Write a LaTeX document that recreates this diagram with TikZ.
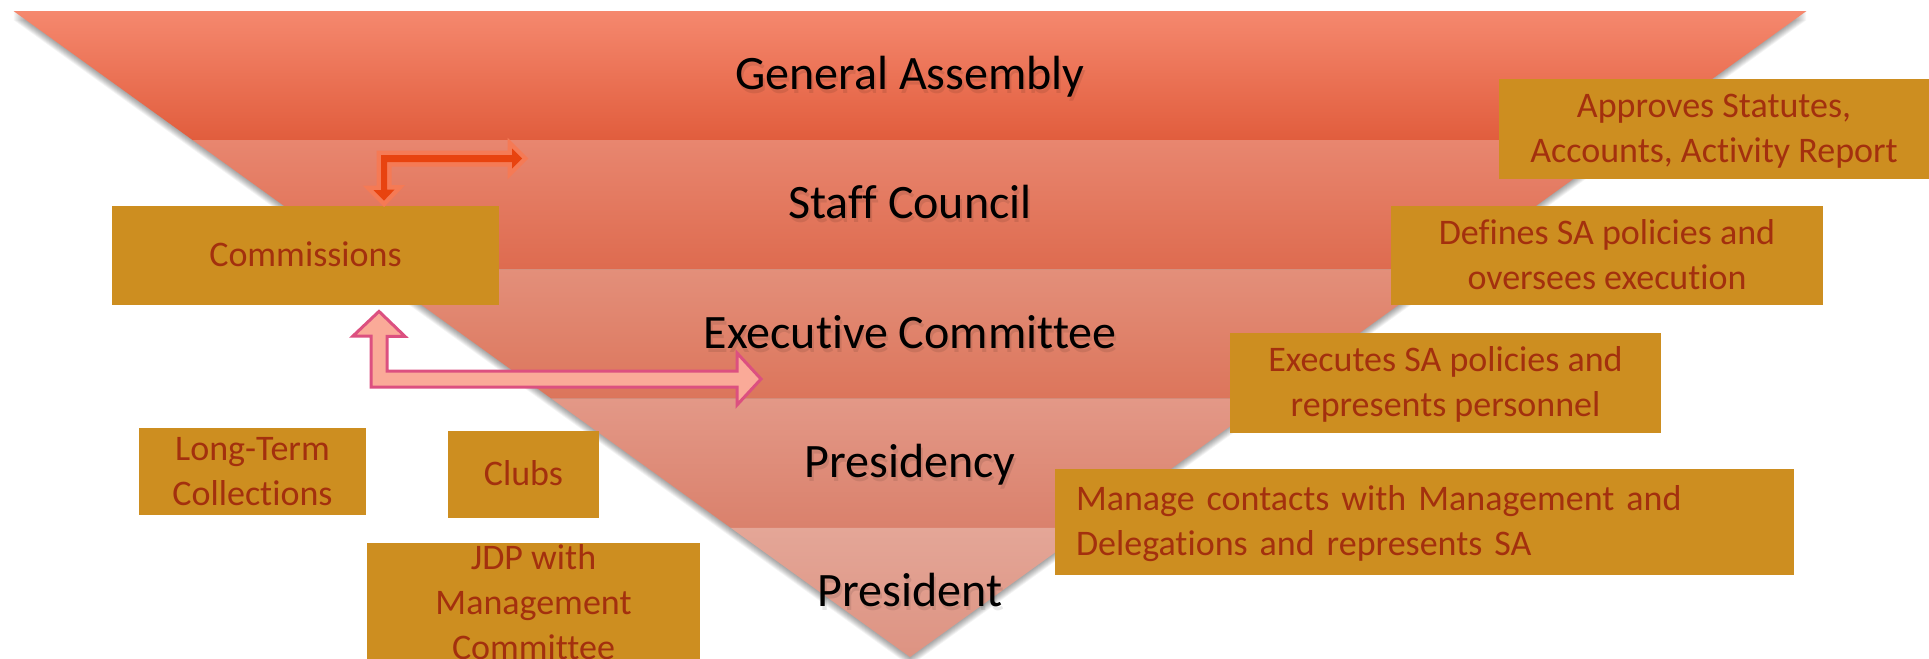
\documentclass[tikz,border=0pt]{standalone}
\usepackage{fontspec}
\setmainfont{Carlito}[Ligatures=NoCommon]
\usetikzlibrary{calc}

\definecolor{boxfill}{HTML}{CD8E20}
\definecolor{boxtext}{HTML}{A3300E}
\definecolor{bandAt}{HTML}{F5886E}\definecolor{bandAb}{HTML}{E15D3D}
\definecolor{bandBt}{HTML}{E8866F}\definecolor{bandBb}{HTML}{DE6B4F}
\definecolor{bandCt}{HTML}{E38F7A}\definecolor{bandCb}{HTML}{DC755B}
\definecolor{bandDt}{HTML}{E39887}\definecolor{bandDb}{HTML}{DA816C}
\definecolor{bandEt}{HTML}{E4A697}\definecolor{bandEb}{HTML}{DD9382}
\definecolor{pinkfill}{HTML}{FAAA98}
\definecolor{pinkline}{HTML}{DC5080}
\definecolor{redfill}{HTML}{E8430F}
\definecolor{redglow}{HTML}{F57A55}

% one line of box text: fixed strut, glyphs smashed
\newcommand{\boxline}[1]{\rule[-2pt]{0pt}{15pt}\smash{#1}}

\begin{document}
\begin{tikzpicture}[x=0.5pt,y=-0.5pt,
  infobox/.style={fill=boxfill,text=boxtext,inner sep=0pt,
    font=\fontsize{18pt}{22.5pt}\selectfont,align=center},
  lbl/.style={anchor=base,text=black,font=\fontsize{24pt}{28pt}\selectfont,inner sep=0pt},
  lblshadow/.style={lbl,opacity=0.09},
  redarrow/.style={preaction={draw=redglow,line width=4.5pt,line join=miter},fill=redfill},
  pinkarrow/.style={fill=pinkfill,draw=pinkline,line width=1.5pt,line join=miter}]

\useasboundingbox (0,0) rectangle (1929,659);
\fill[white] (0,0) rectangle (1929,659);
\clip (0,0) rectangle (1929,659);

% inverted triangle corners
\coordinate (TL) at (13.5,11);
\coordinate (TR) at (1806.5,11);
\coordinate (AP) at (910,657);

% soft shadow below the triangle
\foreach \d in {1,...,9}
  \fill[black,opacity=0.045] ($(TL)+(0,\d)$) -- ($(TR)+(0,\d)$) -- ($(AP)+(0,\d)$) -- cycle;

% band edges
\foreach \i/\t in {0/0,1/0.2,2/0.4,3/0.6,4/0.8}{
  \coordinate (L\i) at ($(TL)!\t!(AP)$);
  \coordinate (R\i) at ($(TR)!\t!(AP)$);
}

\shade[top color=bandAt,bottom color=bandAb] (L0) -- (R0) -- (R1) -- (L1) -- cycle;
\shade[top color=bandBt,bottom color=bandBb] (L1) -- (R1) -- (R2) -- (L2) -- cycle;
\shade[top color=bandCt,bottom color=bandCb] (L2) -- (R2) -- (R3) -- (L3) -- cycle;
\shade[top color=bandDt,bottom color=bandDb] (L3) -- (R3) -- (R4) -- (L4) -- cycle;
\shade[top color=bandEt,bottom color=bandEb] (L4) -- (R4) -- (AP) -- cycle;

% band labels with a soft drop shadow
\newcommand{\bandlabel}[3]{%
  \node[lblshadow,xshift=1pt,yshift=-2pt] (#1s) at (910,#2) {#3};
  \node[lbl] (#1) at (910,#2) {#3};}
\bandlabel{ga}{89.5}{General Assembly}
\bandlabel{sc}{218.5}{Staff Council}
\bandlabel{ec}{348}{Executive Committee}
\bandlabel{pr}{477.5}{Presidency}
\bandlabel{pt}{606.5}{President}

% description boxes
\node[infobox,minimum width=215pt,minimum height=50pt] (approves) at (1714,129)
  {\boxline{Approves Statutes,}\\\boxline{Accounts, Activity Report}};
\node[infobox,minimum width=216pt,minimum height=49.5pt] (defines) at (1607,255.5)
  {\boxline{Defines SA policies and}\\\boxline{oversees execution}};
\node[infobox,minimum width=215.5pt,minimum height=50pt] (executes) at (1445.5,383)
  {\boxline{Executes SA policies and}\\\boxline{represents personnel}};
\node[infobox,align=left,text width=348.5pt,inner xsep=10.5pt,minimum height=53pt] (manage) at (1424.5,522)
  {\boxline{Manage contacts with Management and}\\\boxline{Delegations and represents SA}};
\node[infobox,minimum width=193.5pt,minimum height=49.5pt] (commissions) at (305.5,255.5)
  {\boxline{Commissions}};
\node[infobox,minimum width=113.5pt,minimum height=43.5pt] (longterm) at (252.5,471.5)
  {\boxline{Long-Term}\\\boxline{Collections}};
\node[infobox,minimum width=75.5pt,minimum height=43.5pt] (clubs) at (523.5,474.5)
  {\boxline{Clubs}};
\node[infobox,minimum width=166.5pt,minimum height=60pt] (jdp) at (533.5,603)
  {\boxline{JDP with}\\\boxline{Management}\\\boxline{Committee}};

% arrow between Commissions and Staff Council
\coordinate (rtipD) at ($(commissions.north)+(78.5,-5)$);
\coordinate (rtipR) at (522,158.5);
\path[redarrow] (rtipD) -- ++(10.5,-11) -- ++(-7.5,0) -- ($(rtipR)+(-135,3.5)$)
  -- ++(125,0) -- ++(0,6.5) -- (rtipR) -- ++(-10,-10) -- ++(0,6.5)
  -- ++(-131,0) -- ++(0,35) -- ++(-7.5,0) -- cycle;

% arrow between Commissions and Executive Committee
\coordinate (ptipU) at ($(commissions.south)+(73.5,6)$);
\coordinate (ptipR) at (761,379);
\path[pinkarrow] (ptipU) -- ++(26,25) -- ++(-18,0) |- ($(ptipR)+(-24,-8)$)
  -- ++(0,-18) -- (ptipR) -- ++(-24,26) -- ++(0,-18) -- ++(-366,0)
  -- ++(0,-51) -- ++(-18,0) -- cycle;

\end{tikzpicture}
\end{document}
